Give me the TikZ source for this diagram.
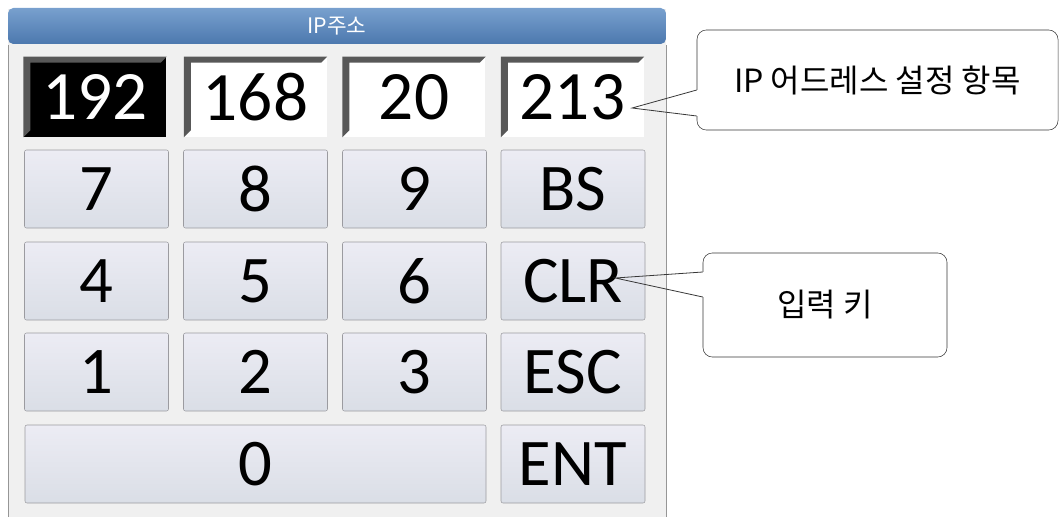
\documentclass[tikz,border=0pt]{standalone}
\usepackage{fontspec}
\setmainfont{Carlito}
\newfontfamily\krfont{Noto Sans CJK KR}
\usetikzlibrary{calc}
\definecolor{winback}{RGB}{240,240,240}
\definecolor{winedge}{RGB}{150,150,150}
\definecolor{titletop}{RGB}{120,160,206}
\definecolor{titlebot}{RGB}{76,120,174}
\definecolor{keytop}{RGB}{236,236,244}
\definecolor{keybot}{RGB}{218,222,230}
\definecolor{keyedge}{RGB}{155,155,160}
\definecolor{bevelgray}{RGB}{88,88,88}
\definecolor{noteedge}{RGB}{55,55,55}
\begin{document}
\begin{tikzpicture}[x=0.75pt,y=0.75pt,yscale=-1,xscale=1,
    keybox/.style={draw=keyedge, rounded corners=1.5pt, top color=keytop, bottom color=keybot,
        minimum width=108pt, minimum height=58.5pt, inner sep=0pt, font=\fontsize{50}{50}\selectfont},
    ipbox/.style={fill=white, minimum width=107pt, minimum height=60pt, inner sep=0pt,
        font=\fontsize{52}{52}\selectfont},
    bevel/.style={fill=bevelgray},
    note/.style={draw=noteedge, fill=white, rounded corners=7pt, inner sep=0pt,
        font=\krfont\fontsize{24}{24}\selectfont},
    noteline/.style={draw=noteedge, line width=0.6pt}
    ]
        \useasboundingbox (0,0) rectangle (1059,517);
        % window
        \fill [winback] (8,9) rectangle (666,517);
        \draw [winedge] (8,45) -- (8,517) ;
        \draw [winedge] (666,45) -- (666,517) ;
        \node (title) [rounded corners=4pt, top color=titletop, bottom color=titlebot, minimum width=493.5pt,
            minimum height=27pt, inner sep=0pt, text=white, font=\krfont\fontsize{16}{16}\selectfont] at (337,26) {IP주소};
        % address fields
        \node (f1) [ipbox, fill=black, text=white] at (95,97) {192};
        \node (f2) [ipbox] at (255.5,97) {168};
        \node (f3) [ipbox] at (414,97) {20};
        \node (f4) [ipbox] at (572.5,97) {213};
        \fill [bevel] (f1.north west) -- (f1.north east) -- ++(-6,6) -| ($(f1.south west)+(7,-7)$) -- (f1.south west) -- cycle ;
        \fill [bevel] (f2.north west) -- (f2.north east) -- ++(-6,6) -| ($(f2.south west)+(7,-7)$) -- (f2.south west) -- cycle ;
        \fill [bevel] (f3.north west) -- (f3.north east) -- ++(-6,6) -| ($(f3.south west)+(7,-7)$) -- (f3.south west) -- cycle ;
        \fill [bevel] (f4.north west) -- (f4.north east) -- ++(-6,6) -| ($(f4.south west)+(7,-7)$) -- (f4.south west) -- cycle ;
        % keypad
        \node (k7) [keybox] at (96.5,189) {7};
        \node (k8) [keybox] at (255.5,189) {8};
        \node (k9) [keybox] at (414.5,189) {9};
        \node (kbs) [keybox] at (573,189) {BS};
        \node (k4) [keybox] at (96.5,281) {4};
        \node (k5) [keybox] at (255.5,281) {5};
        \node (k6) [keybox] at (414.5,281) {6};
        \node (kclr) [keybox] at (573,281) {CLR};
        \node (k1) [keybox] at (96.5,372) {1};
        \node (k2) [keybox] at (255.5,372) {2};
        \node (k3) [keybox] at (414.5,372) {3};
        \node (kesc) [keybox] at (573,372) {ESC};
        \node (k0) [keybox, minimum width=345.75pt] at (255.5,464) {0};
        \node (kent) [keybox] at (573,464) {ENT};
        % callouts
        \node (ipnote) [note, minimum width=270.75pt, minimum height=75pt] at (877.5,80) {IP 어드레스 설정 항목};
        \node (keynote) [note, minimum width=183pt, minimum height=78pt] at (825,305) {입력 키};
        \coordinate (iptip) at ($(f4.east)+(-12,11)$);
        \coordinate (keytip) at ($(kclr.east)+(-30,-3)$);
        \fill [white] ($(ipnote.west)+(-1,10)$) rectangle ($(ipnote.west)+(2,36)$);
        \draw [noteline] ($(ipnote.west)+(0,10)$) -- (iptip) -- ($(ipnote.west)+(0,36)$);
        \fill [white] ($(keynote.west)+(-1,-33)$) rectangle ($(keynote.west)+(2,-8)$);
        \draw [noteline] ($(keynote.west)+(0,-33)$) -- (keytip) -- ($(keynote.west)+(0,-8)$);
    \end{tikzpicture}
\end{document}
